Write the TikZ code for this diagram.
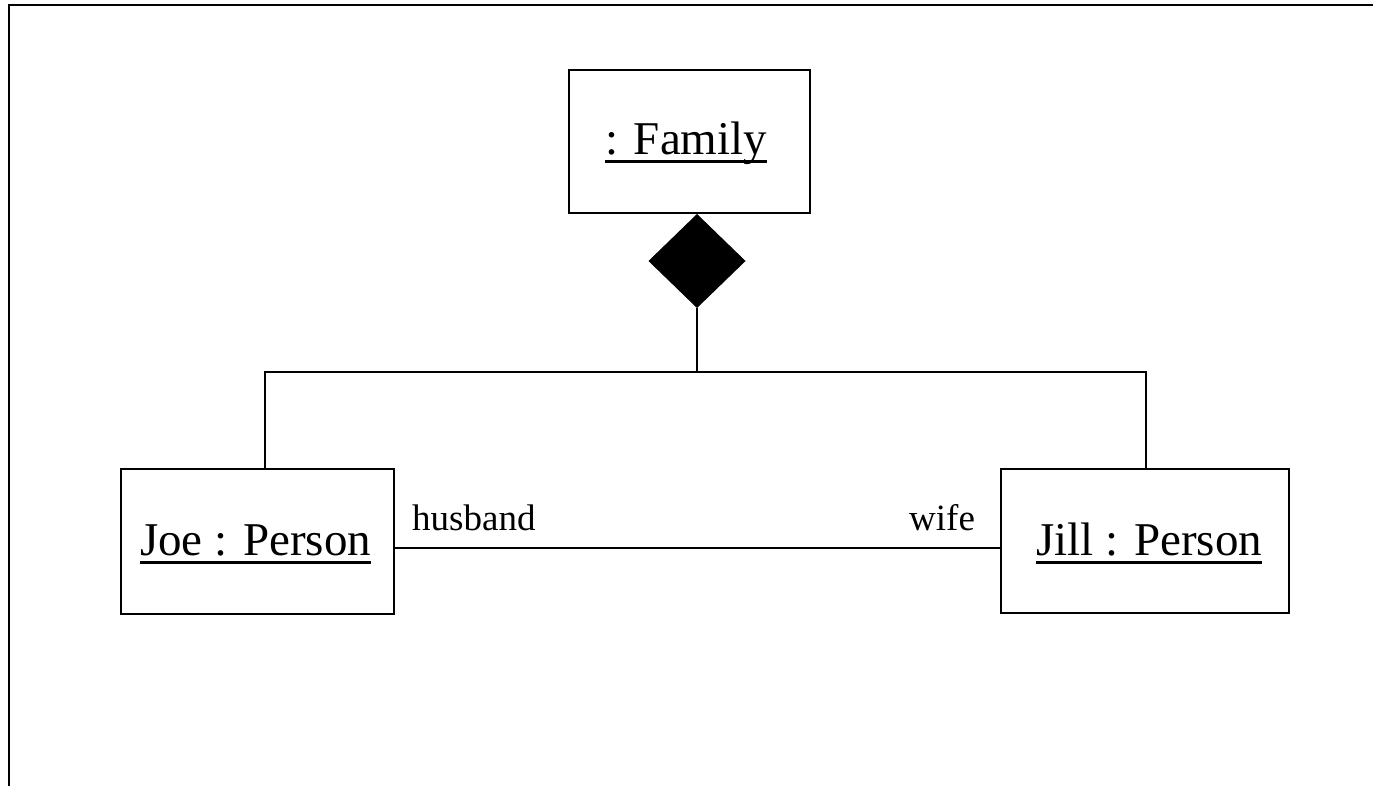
\documentclass[tikz,border=0pt]{standalone}
\usepackage{fontspec}
\setmainfont{Liberation Serif}
\usetikzlibrary{shapes.geometric}
\begin{document}
\begin{tikzpicture}[x=1pt,y=-1pt,
  objbox/.style={draw,line width=2.4pt,inner sep=0pt},
  objtext/.style={inner sep=0pt,anchor=base west,font=\fontsize{47}{56}\selectfont},
  roletext/.style={inner sep=0pt,anchor=base west,font=\fontsize{37}{44}\selectfont},
  uline/.style={line width=3pt},
  conn/.style={line width=2.2pt}]
\useasboundingbox (0,0) rectangle (1373,786);
% frame
\draw[line width=2.4pt] (9,786) -- (9,5) -- (1373,5);
% boxes
\node[objbox,minimum width=241pt,minimum height=143pt] (fam) at (689.5,141.5) {};
\node[objbox,minimum width=273pt,minimum height=145pt] (joe) at (257.5,541.5) {};
\node[objbox,minimum width=288pt,minimum height=144pt] (jill) at (1145,541) {};
% texts
\node[objtext] (famt) at (605,155) {: Family};
\node[objtext] (joet) at (140,555) {Joe : Person};
\node[objtext] (jillt) at (1036,555) {Jill : Person};
\draw[uline] ([yshift=-7pt]famt.base west) -- ([yshift=-7pt]famt.base east);
\draw[uline] ([yshift=-7pt]joet.base west) -- ([yshift=-7pt]joet.base east);
\draw[uline] ([yshift=-7pt]jillt.base west) -- ([yshift=-7pt]jillt.base east);
% diamond
\node[diamond,fill=black,draw=black,line width=1pt,inner sep=0pt,minimum width=96pt,minimum height=93pt,anchor=north] (dia) at (697,214) {};
\coordinate (bar) at (697,372);
\draw[conn] (dia.south) -- (bar);
\draw[conn] ([xshift=7.5pt]joe.north) |- (bar) -| ([xshift=1pt]jill.north);
% husband-wife link
\draw[conn] (joe.east |- 0,548) -- (jill.west |- 0,548);
\node[roletext] (hus) at (412,530) {husband};
\node[roletext] (wife) at (909,530) {wife};
\end{tikzpicture}
\end{document}
